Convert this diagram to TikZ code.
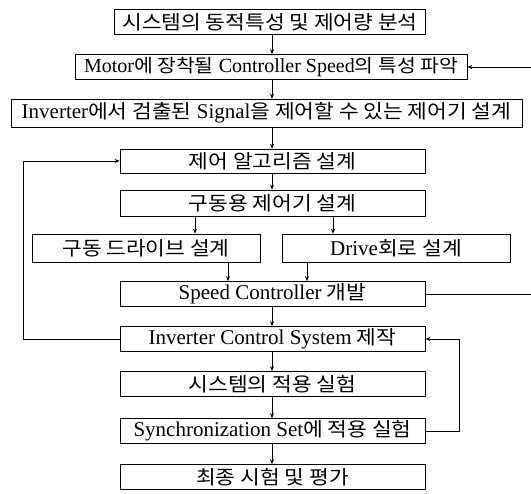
\documentclass[tikz,border=0pt]{standalone}
\usepackage{fontspec}
\setmainfont{Liberation Serif}
\newfontfamily\krfont[FakeStretch=1.11,Scale=0.92]{Noto Sans CJK KR}
\newcommand\K[1]{{\krfont #1}}
\usetikzlibrary{arrows.meta,calc}
\begin{document}
\begin{tikzpicture}[x=1pt,y=-1pt,
  box/.style={draw, line width=0.7pt, inner sep=0pt, minimum height=25pt,
    font=\fontsize{21}{23}\selectfont},
  ln/.style={line width=0.7pt},
  arr/.style={line width=0.7pt,-{Stealth[length=5pt,width=4pt]}}]
\useasboundingbox (0,0) rectangle (531,494);
\fill[white] (0,0) rectangle (531,494);
% boxes
\node[box, minimum width=311pt] (b1) at (270,22) {\K{시스템의 동적특성 및 제어량 분석}};
\node[box, minimum width=392pt, font=\fontsize{20}{22}\selectfont] (b2) at (271,67) {Motor\K{에 장착될} Controller Speed\K{의 특성 파악}};
\node[box, minimum width=511pt, minimum height=28pt] (b3) at (266.5,113) {Inverter\K{에서 검출된} Signal\K{을 제어할 수 있는 제어기 설계}};
\node[box, minimum width=305pt, minimum height=24pt] (b4) at (272.5,161) {\K{제어 알고리즘 설계}};
\node[box, minimum width=305pt, minimum height=26pt] (b5) at (272.5,203) {\K{구동용 제어기 설계}};
\node[box, minimum width=228pt, minimum height=28pt] (b6a) at (146,248) {\K{구동 드라이브 설계}};
\node[box, minimum width=228pt, minimum height=28pt] (b6b) at (396,248) {Drive\K{회로 설계}};
\node[box, minimum width=305pt] (sp) at (272.5,294) {Speed Controller \K{개발}};
\node[box, minimum width=305pt] (ics) at (272.5,339) {Inverter Control System \K{제작}};
\node[box, minimum width=305pt] (sys) at (272.5,384) {\K{시스템의 적용 실험}};
\node[box, minimum width=305pt] (syn) at (272.5,431) {Synchronization Set\K{에 적용 실험}};
\node[box, minimum width=305pt] (fin) at (272.5,477) {\K{최종 시험 및 평가}};
% guide coordinates
\coordinate (xm) at (272,0);
\coordinate (xa) at (195,0);
\coordinate (xb) at (333,0);
\coordinate (xc) at (228,0);
\coordinate (xd) at (307,0);
\coordinate (fl) at (23,0);
\coordinate (fr) at (459,0);
\coordinate (ft) at (545,0);
% main vertical arrows
\draw[arr] (b1.south -| xm) -- (b2.north -| xm);
\draw[arr] (b2.south -| xm) -- (b3.north -| xm);
\draw[arr] (b3.south -| xm) -- (b4.north -| xm);
\draw[arr] (b4.south -| xm) -- (b5.north -| xm);
\draw[arr] (b5.south -| xa) -- (b6a.north -| xa);
\draw[arr] (b5.south -| xb) -- (b6b.north -| xb);
\draw[arr] (b6a.south -| xc) -- (sp.north -| xc);
\draw[arr] (b6b.south -| xd) -- (sp.north -| xd);
\draw[arr] (sp.south -| xm) -- (ics.north -| xm);
\draw[arr] (ics.south -| xm) -- (sys.north -| xm);
\draw[arr] (sys.south -| xm) -- (syn.north -| xm);
\draw[arr] (syn.south -| xm) -- (fin.north -| xm);
% feedback loops
\draw[arr] (ics.west) -- (ics.west -| fl) |- (b4.west);
\draw[arr] (syn.east) -- (syn.east -| fr) |- (ics.east);
\draw[arr] (sp.east) -- (sp.east -| ft) |- (b2.east);
\end{tikzpicture}
\end{document}
